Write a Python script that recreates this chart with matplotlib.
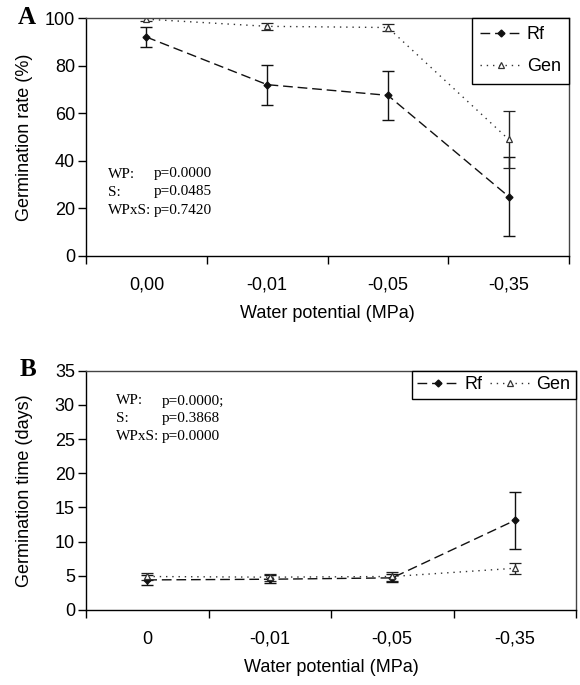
import matplotlib
matplotlib.use('Agg')
import matplotlib.pyplot as plt
from matplotlib.lines import Line2D
import numpy as np

# data
wp_labels_a = ['0,00', '-0,01', '-0,05', '-0,35']
wp_labels_b = ['0', '-0,01', '-0,05', '-0,35']

rate_rf = [92, 72, 67.5, 25]
rate_rf_err = [4.2, 8.4, 10.2, 16.5]
rate_gen = [99.5, 96.5, 96, 49]
rate_gen_err = [0.8, 1.5, 1.5, 12]

time_rf = [4.4, 4.5, 4.7, 13.1]
time_rf_err = [0.7, 0.6, 0.6, 4.2]
time_gen = [4.9, 4.8, 4.9, 6.1]
time_gen_err = [0.5, 0.5, 0.7, 0.8]

stats_a = [('WP:', 'p=0.0000'), ('S:', 'p=0.0485'), ('WPxS:', 'p=0.7420')]
stats_b = [('WP:', 'p=0.0000;'), ('S:', 'p=0.3868'), ('WPxS:', 'p=0.0000')]

SANS = 'Liberation Sans'
SERIF = 'Liberation Serif'
plt.rcParams['font.family'] = SANS
FS = 13

RF_STYLE = dict(color='#111111', lw=1, dashes=(7, 3.5), marker='D', ms=3.5,
                mfc='#111111', mec='#111111')
GEN_STYLE = dict(color='#333333', lw=1, dashes=(1, 3.5), marker='^', ms=4,
                 mfc='white', mec='#333333', mew=0.9)


def panel(fig, rect, rf, rf_err, gen, gen_err, ymax, ystep, labels, ylabel):
    ax = fig.add_axes(rect)
    x = np.arange(len(labels))
    ax.errorbar(x, rf, yerr=rf_err, ecolor='#111111', elinewidth=1,
                capsize=4, capthick=1, **RF_STYLE)
    ax.errorbar(x, gen, yerr=gen_err, ecolor='#222222', elinewidth=1,
                capsize=4, capthick=1, **GEN_STYLE)
    ax.set_xlim(-0.5, len(labels) - 0.5)
    ax.set_ylim(0, ymax)
    ax.set_yticks(np.arange(0, ymax + 1, ystep))
    # tick marks between categories, labels centred on them
    ax.set_xticks(np.arange(-0.5, len(labels)), [''] * (len(labels) + 1))
    ax.set_xticks(x, labels, minor=True)
    ax.tick_params(axis='x', which='minor', length=0, pad=15, labelsize=FS)
    ax.tick_params(axis='x', which='major', length=6, width=1, direction='out')
    ax.tick_params(axis='y', length=6, width=1, direction='out', labelsize=FS, pad=2)
    for s in ('left', 'bottom'):
        ax.spines[s].set_linewidth(1)
        ax.spines[s].set_color('black')
    for s in ('top', 'right'):
        ax.spines[s].set_linewidth(1)
        ax.spines[s].set_color('#444444')
    ax.set_xlabel('Water potential (MPa)', fontsize=FS, labelpad=8)
    ax.set_ylabel(ylabel, fontsize=FS)
    ymid = rect[1] + rect[3] / 2
    ax.yaxis.set_label_coords(33 / 580, ymid, transform=fig.transFigure)
    return ax


handles = [Line2D([], [], **RF_STYLE), Line2D([], [], **GEN_STYLE)]
names = ['Rf', 'Gen']

fig = plt.figure(figsize=(5.8, 6.85), dpi=100)

axA = panel(fig, [86 / 580, 429 / 685, 483 / 580, 238 / 685],
            rate_rf, rate_rf_err, rate_gen, rate_gen_err, 100, 20,
            wp_labels_a, 'Germination rate (%)')
legA = axA.legend(handles, names, loc='upper right', bbox_to_anchor=(1, 1),
                  borderaxespad=0, fancybox=False, edgecolor='black',
                  fontsize=FS, handlelength=2.3, handletextpad=0.3,
                  labelspacing=0.85, borderpad=0.45, framealpha=1)
legA.get_frame().set_linewidth(1)

axB = panel(fig, [86 / 580, 75 / 685, 490 / 580, 239.3 / 685],
            time_rf, time_rf_err, time_gen, time_gen_err, 35, 5,
            wp_labels_b, 'Germination time (days)')
legB = axB.legend(handles, names, loc='upper right', bbox_to_anchor=(1, 1),
                  borderaxespad=0, ncol=2, fancybox=False, edgecolor='black',
                  fontsize=FS, handlelength=2.3, handletextpad=0.3,
                  columnspacing=0.4, borderpad=0.3, framealpha=1)
legB.get_frame().set_linewidth(1)

# panel letters
fig.text(18 / 580, 1 - 18 / 685, 'A', fontsize=18, fontweight='bold',
         family=SERIF, va='center', ha='left')
fig.text(20 / 580, 1 - 369 / 685, 'B', fontsize=18, fontweight='bold',
         family=SERIF, va='center', ha='left')

# statistics text
for i, (k, v) in enumerate(stats_a):
    y = 1 - (174 + 18 * i) / 685
    fig.text(108 / 580, y, k, fontsize=11, family=SERIF, va='center')
    fig.text(154 / 580, y, v, fontsize=11, family=SERIF, va='center')
for i, (k, v) in enumerate(stats_b):
    y = 1 - (401 + 17.8 * i) / 685
    fig.text(116 / 580, y, k, fontsize=11, family=SERIF, va='center')
    fig.text(162 / 580, y, v, fontsize=11, family=SERIF, va='center')

fig.savefig('out.png', dpi=100)
